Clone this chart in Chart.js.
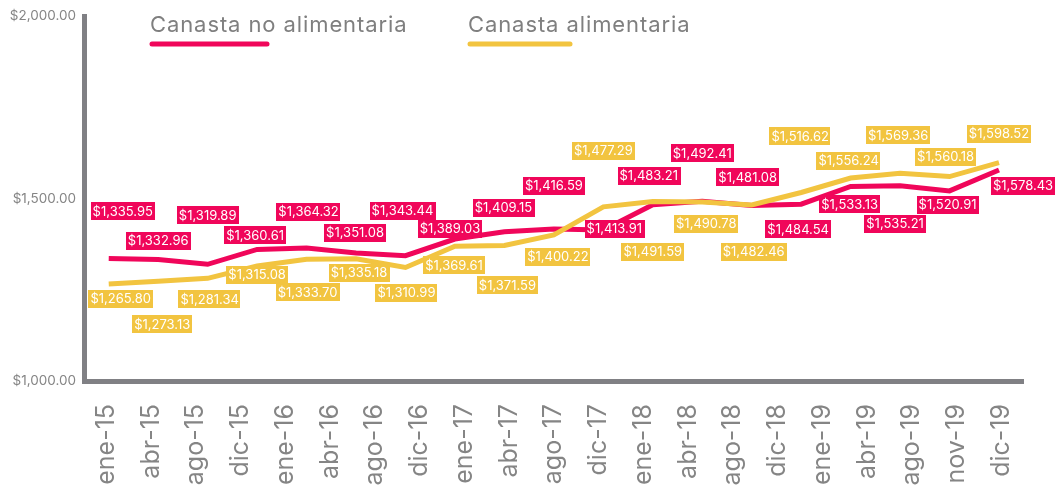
<!DOCTYPE html>
<html>
<head>
<meta charset="utf-8">
<script src="https://cdn.jsdelivr.net/npm/chart.js@4/dist/chart.umd.min.js"></script>
<style>
  html, body { margin: 0; padding: 0; background: #fff; }
  #wrap { width: 1055px; height: 489px; position: relative; }
</style>
</head>
<body>
<div id="wrap"><canvas id="chart"></canvas></div>
<script>
// axis labels (21 shown on the category axis)
const xLabels = ['ene-15', 'abr-15', 'ago-15', 'dic-15', 'ene-16', 'abr-16', 'ago-16', 'dic-16',
    'ene-17', 'abr-17', 'ago-17', 'dic-17', 'ene-18', 'abr-18', 'ago-18', 'dic-18',
    'ene-19', 'abr-19', 'ago-19', 'nov-19', 'dic-19'];

// series values (19 points each)
const noAlimentaria = [1335.95, 1332.96, 1319.89, 1360.61, 1364.32, 1351.08, 1343.44, 1389.03, 1409.15,
    1416.59, 1413.91, 1483.21, 1492.41, 1481.08, 1484.54, 1533.13, 1535.21, 1520.91, 1578.43];
const alimentaria = [1265.80, 1273.13, 1281.34, 1315.08, 1333.70, 1335.18, 1310.99, 1369.61, 1371.59,
    1400.22, 1477.29, 1491.59, 1490.78, 1482.46, 1516.62, 1556.24, 1569.36, 1560.18, 1598.52];

const yTicks = [1000, 1500, 2000];

const PINK = '#F0065A';
const YELLOW = '#F2C440';
const GREY = '#808084';

// label placement (offset of each data label from its point)
const pinkLabelDx = [14, 0, 0, -2, 2, -1, -3, -5, -1, 0, 11, -4, 0, -4, -3, -1, -5, -2, 24];
const pinkLabelDy = [-47, -19, -49, -14, -36, -20, -45, -10, -24, -43, -1, -29, -48, -28, 25, 18, 38, 14, 16];
const yellowLabelDx = [12, 4, 2, 0, 1, 3, 1, -1, 3, 4, 0, 0, 4, 2, -1, -2, -2, -4, 0];
const yellowLabelDy = [15, 43, 21, 9, 33, 14, 25, 19, 40, 22, -56, 50, 22, 47, -56, -17, -38, -20, -29];

const money = v => '$' + v.toLocaleString('en-US', { minimumFractionDigits: 2, maximumFractionDigits: 2 });

const dataLabels = {
    id: 'dataLabels',
    afterDatasetsDraw(chart) {
        const ctx = chart.ctx;
        ctx.save();
        ctx.font = '13px Inter';
        ctx.textAlign = 'center';
        ctx.textBaseline = 'middle';
        chart.data.datasets.forEach((ds, di) => {
            const meta = chart.getDatasetMeta(di);
            const dx = ds.labelDx, dy = ds.labelDy;
            meta.data.forEach((pt, i) => {
                const text = money(ds.data[i].y);
                const w = ctx.measureText(text).width + 4;
                const h = 18;
                const cx = pt.x + dx[i], cy = pt.y + dy[i];
                ctx.fillStyle = ds.borderColor;
                ctx.fillRect(Math.round(cx - w / 2), Math.round(cy - h / 2), Math.round(w), h);
                ctx.fillStyle = '#fff';
                ctx.fillText(text, cx, cy + 0.5);
            });
        });
        ctx.restore();
    }
};

const lineLegend = {
    id: 'lineLegend',
    afterDraw(chart) {
        const ctx = chart.ctx;
        ctx.save();
        ctx.font = '22px Inter';
        ctx.letterSpacing = '0.9px';
        ctx.textBaseline = 'alphabetic';
        ctx.textAlign = 'left';
        const items = [
            { text: 'Canasta no alimentaria', color: PINK, x: 150, lineW: 117 },
            { text: 'Canasta alimentaria', color: YELLOW, x: 468, lineW: 102 }
        ];
        items.forEach(it => {
            ctx.fillStyle = '#7f7f7f';
            ctx.fillText(it.text, it.x, 32);
            ctx.strokeStyle = it.color;
            ctx.lineWidth = 5;
            ctx.lineCap = 'round';
            ctx.beginPath();
            ctx.moveTo(it.x + 2, 44);
            ctx.lineTo(it.x + it.lineW, 44);
            ctx.stroke();
        });
        ctx.restore();
    }
};

new Chart(document.getElementById('chart'), {
    type: 'line',
    data: {
        datasets: [
            {
                label: 'Canasta no alimentaria',
                data: noAlimentaria.map((v, i) => ({ x: i, y: v })),
                borderColor: PINK,
                backgroundColor: PINK,
                borderWidth: 5,
                pointRadius: 0,
                tension: 0,
                xAxisID: 'xd',
                order: 1,
                labelDx: pinkLabelDx,
                labelDy: pinkLabelDy
            },
            {
                label: 'Canasta alimentaria',
                data: alimentaria.map((v, i) => ({ x: i, y: v })),
                borderColor: YELLOW,
                backgroundColor: YELLOW,
                borderWidth: 5,
                pointRadius: 0,
                tension: 0,
                xAxisID: 'xd',
                order: 0,
                labelDx: yellowLabelDx,
                labelDy: yellowLabelDy
            }
        ]
    },
    options: {
        responsive: true,
        maintainAspectRatio: false,
        animation: false,
        layout: { padding: { top: 13, right: 27, left: 0, bottom: 0 } },
        plugins: {
            legend: { display: false },
            tooltip: { enabled: false }
        },
        scales: {
            x: {
                type: 'category',
                labels: xLabels,
                offset: true,
                position: 'bottom',
                grid: { display: false, drawTicks: false },
                border: { color: GREY, width: 5 },
                ticks: {
                    autoSkip: false,
                    maxRotation: 90,
                    minRotation: 90,
                    padding: 23,
                    color: '#858585',
                    font: { family: 'Inter', size: 25 }
                },
                afterFit: s => { s.height = 108; }
            },
            xd: {
                type: 'linear',
                display: false,
                min: -0.5,
                max: noAlimentaria.length - 0.5
            },
            y: {
                min: yTicks[0],
                max: yTicks[yTicks.length - 1],
                afterBuildTicks: s => { s.ticks = yTicks.map(v => ({ value: v })); },
                grid: { display: false, drawTicks: false },
                border: { color: GREY, width: 5 },
                ticks: {
                    padding: 8,
                    color: '#858585',
                    font: { family: 'Inter', size: 13.5 },
                    callback: v => money(v)
                },
                afterFit: s => { s.width = 84; }
            }
        }
    },
    plugins: [dataLabels, lineLegend]
});
</script>
</body>
</html>
